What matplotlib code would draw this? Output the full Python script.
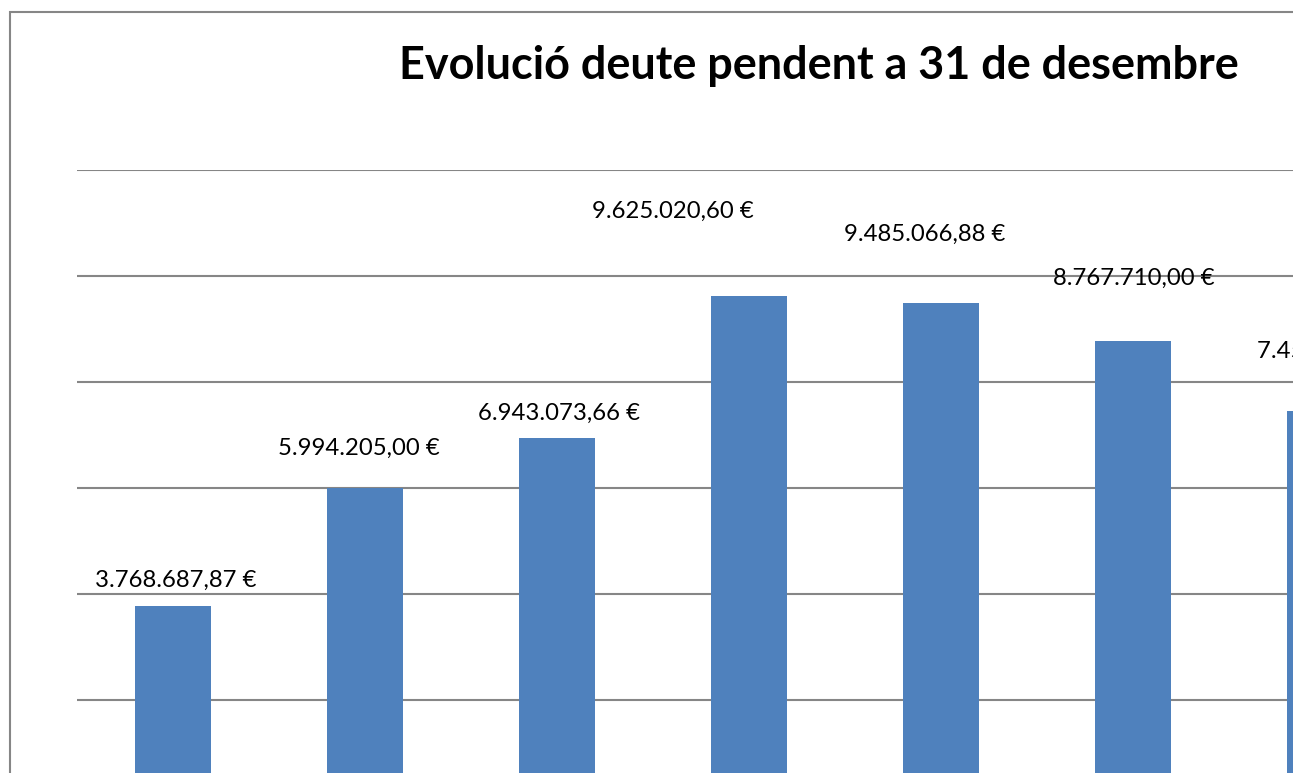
import matplotlib
matplotlib.use("Agg")
import matplotlib.pyplot as plt
from matplotlib.patches import Rectangle

# deute pendent a 31 de desembre (euros)
values = [3768687.87, 5994205.00, 6943073.66, 9625020.60, 9485066.88, 8767710.00, 7455000.00]
labels = ["3.768.687,87 €", "5.994.205,00 €", "6.943.073,66 €", "9.625.020,60 €",
          "9.485.066,88 €", "8.767.710,00 €", "7.455.000,00 €"]
grid_ticks = [2e6, 4e6, 6e6, 8e6, 10e6, 12e6]

# label offsets from bar top centre, in pixels (dx, dy)
label_offsets = [(2.5, 19), (-6.5, 33), (2, 18), (-76, 78), (-16, 62), (1, 56), (12.5, 53)]

W, H = 1293, 773
fig = plt.figure(figsize=(W / 100, H / 100), dpi=100)

# chart frame (cut off on the right and bottom)
fig.patches.append(Rectangle((9.5 / W, -0.1), 1.2, (H - 12 + 0.1 * H) / H,
                             transform=fig.transFigure, fill=False,
                             edgecolor="#868686", linewidth=1.5))

ax_left, ax_top, zero_y, cat_w = 77, 170, 806, 192
n = len(values)
ax = fig.add_axes([ax_left / W, (H - zero_y) / H, n * cat_w / W, (zero_y - ax_top) / H])
ax.set_xlim(-0.5, n - 0.5)
ax.set_ylim(0, 12e6)

for y in grid_ticks:
    ax.axhline(y, color="#868686", linewidth=1.5, zorder=0)

x = list(range(n))
ax.bar(x, values, width=0.4, color="#4F81BD", zorder=2)

for xi, v, lab, (dx, dy) in zip(x, values, labels, label_offsets):
    ax.annotate(lab, (xi, v), xytext=(dx, dy), textcoords="offset pixels",
                ha="center", va="baseline", fontsize=17.2, family="Lato",
                color="black", annotation_clip=False)

ax.set_xticks([])
ax.set_yticks([])
for s in ax.spines.values():
    s.set_visible(False)

fig.text(818.5 / W, (H - 79) / H, "Evolució deute pendent a 31 de desembre",
         ha="center", va="baseline", fontsize=32.4, fontweight="bold", family="Lato")

fig.savefig("out.png", dpi=100)
